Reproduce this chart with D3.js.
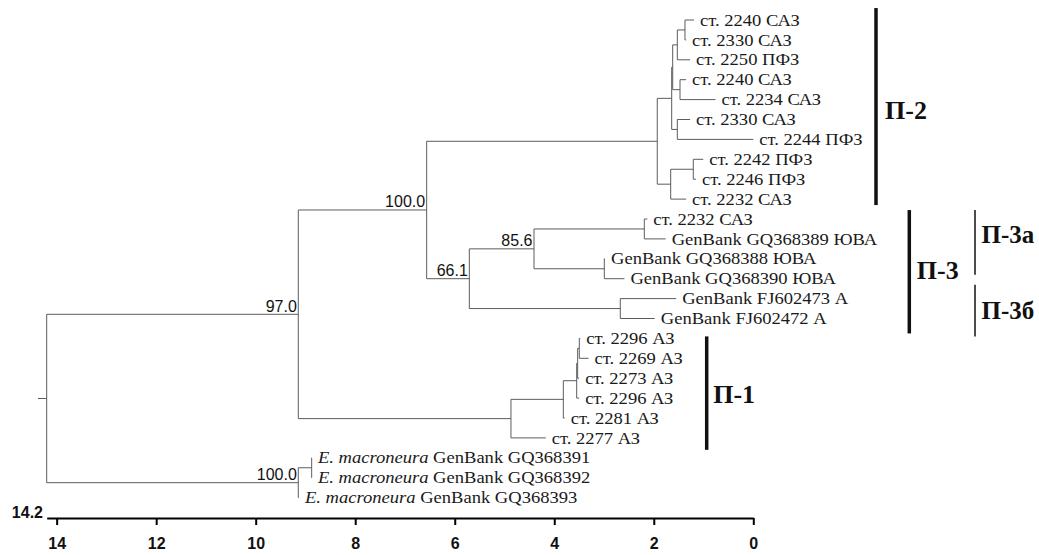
<!DOCTYPE html>
<html><head><meta charset="utf-8">
<script src="https://cdn.jsdelivr.net/npm/d3@7"></script>
<style>body{margin:0;background:#fff}</style>
</head><body><svg id="c" width="1039" height="555"></svg>
<script>
// ---------- data ----------
const leafLabels = [
 "ст. 2240 САЗ","ст. 2330 САЗ","ст. 2250 ПФЗ","ст. 2240 САЗ","ст. 2234 САЗ","ст. 2330 САЗ","ст. 2244 ПФЗ",
 "ст. 2242 ПФЗ","ст. 2246 ПФЗ","ст. 2232 САЗ",
 "ст. 2232 САЗ","GenBank GQ368389 ЮВА","GenBank GQ368388 ЮВА","GenBank GQ368390 ЮВА","GenBank FJ602473 А","GenBank FJ602472 А",
 "ст. 2296 АЗ","ст. 2269 АЗ","ст. 2273 АЗ","ст. 2296 АЗ","ст. 2281 АЗ","ст. 2277 АЗ",
 "E. macroneura GenBank GQ368391","E. macroneura GenBank GQ368392","E. macroneura GenBank GQ368393"];
const italicPrefix = "E. macroneura";
const leafTip = [1.19,1.35,1.27,1.35,0.76,1.27,0.0,1.005,1.15,1.35,
 2.13,1.76,2.98,2.59,1.55,1.98,
 3.477,3.31,3.50,3.50,3.79,4.17,
 8.87,8.87,9.13];
const leafParent = ["N12","N12","B","C","C","D","D","N89","N89","E",
 "N1112","N1112","N1314","N1314","N1516","N1516",
 "H","H","I","G","F","P1","EM2","EM2","EM"];
const nodeId =     ["root","IN","P","P2","U","A","B","N12","C","D","E","N89","P3","P3a","N1112","N1314","N1516","P1","F","G","I","H","EM","EM2"];
const nodeParent = ["","root","IN","P","P2","U","A","B","A","U","P2","E","P","P3","P3a","P3a","P3","IN","P1","F","G","I","root","EM"];
const nodeDist =   [14.2,9.144,6.564,1.93,1.64,1.62,1.527,1.373,1.473,1.527,1.66,1.206,5.707,4.407,2.19,2.994,2.673,4.87,3.818,3.549,3.53,3.497,9.144,8.875];
const nodeSupport = [null,97.0,100.0,null,null,null,null,null,null,null,null,null,66.1,85.6,null,null,null,null,null,null,null,null,100.0,null];
const axisTicks = [14,12,10,8,6,4,2,0];
const rootLabel = "14.2";
const cladeNames = ["П-2","П-3","П-3а","П-3б","П-1"];

// ---------- layout ----------
const svg = d3.select("#c");
const x = d3.scaleLinear().domain([14.2, 0]).range([46.7, 753.3]);
const yIdx = d3.scaleLinear().domain([0, 24]).range([20, 497.6]);
const lineColor = "#5c5c5c";
const serif = "'Liberation Serif','Times New Roman',serif";
const sans = "'Liberation Sans',Arial,sans-serif";

const rows = nodeId.map((id,i)=>({id, parent: nodeParent[i] || null, dist: nodeDist[i], support: nodeSupport[i]}));
leafLabels.forEach((l,i)=>rows.push({id:"L"+i, parent: leafParent[i], dist: leafTip[i], label: l, idx: i}));
const root = d3.stratify().id(d=>d.id).parentId(d=>d.parent)(rows);
root.eachAfter(n=>{
  if(!n.children) n.y = yIdx(n.data.idx);
  else n.y = d3.mean(n.children, c=>c.y);
  n.x = x(n.data.dist);
});

const gTree = svg.append("g").attr("stroke", lineColor).attr("stroke-width", 1).attr("fill","none");
root.descendants().filter(n=>n.parent).forEach(n=>{
  gTree.append("line").attr("x1", n.parent.x).attr("x2", n.x).attr("y1", n.y).attr("y2", n.y);
});
root.descendants().filter(n=>n.children).forEach(n=>{
  const ys = n.children.map(c=>c.y);
  gTree.append("line").attr("x1", n.x).attr("x2", n.x).attr("y1", d3.min(ys)).attr("y2", d3.max(ys));
});
gTree.append("line").attr("x1", root.x - 8.7).attr("x2", root.x).attr("y1", root.y).attr("y2", root.y);

root.descendants().filter(n=>n.data.support != null).forEach(n=>{
  svg.append("text").attr("x", n.x - 1.5).attr("y", n.y - 2.5)
    .attr("text-anchor","end").attr("font-family", sans).attr("font-size", 16).attr("fill","#111")
    .text(n.data.support.toFixed(1));
});

root.leaves().forEach(n=>{
  const g = svg.append("g").attr("transform", `translate(${n.x + 6},${n.y}) scale(1.16,1)`);
  const t = g.append("text").attr("dy","0.35em").attr("font-family", serif).attr("font-size", 16).attr("fill","#1a1a1a");
  const lab = n.data.label;
  if (lab.startsWith(italicPrefix)) {
    t.append("tspan").attr("font-style","italic").text(italicPrefix);
    t.append("tspan").text(lab.slice(italicPrefix.length));
  } else t.text(lab);
});

const axisY = 518;
const ax = svg.append("g").attr("transform", `translate(0,${axisY})`)
  .call(d3.axisBottom(x).tickValues(axisTicks).tickFormat(d3.format("d")).tickSize(7).tickSizeOuter(0).tickPadding(13));
ax.select(".domain").attr("stroke","#000").attr("stroke-width",2);
ax.selectAll(".tick line").attr("stroke","#000").attr("stroke-width",2);
ax.selectAll(".tick text").attr("font-family", sans).attr("font-size", 16).attr("font-weight","bold").attr("fill","#111");
svg.append("text").attr("x", 43).attr("y", axisY).attr("text-anchor","end")
  .attr("font-family", sans).attr("font-size", 16).attr("font-weight","bold").attr("fill","#111").text(rootLabel);

const cladeBarX = [876, 909.3, 975, 975, 706.7];
const cladeBarW = [3.5, 3.5, 1.5, 1.5, 3.5];
const cladeSpan = [[-0.6, 9.3],[9.55, 15.75],[9.55, 12.8],[13.3, 15.9],[15.9, 21.6]];
const cladeLabelDx = [9, 7.5, 6.5, 6.5, 6.5];
const cladeLabelIdx = [4.5, 12.55, 10.75, 14.6, 18.8];
const cladeFont = [26, 26, 25, 25, 26];
cladeNames.forEach((nm,i)=>{
  svg.append("line").attr("x1", cladeBarX[i]).attr("x2", cladeBarX[i])
    .attr("y1", yIdx(cladeSpan[i][0])).attr("y2", yIdx(cladeSpan[i][1]))
    .attr("stroke","#111").attr("stroke-width", cladeBarW[i]);
  svg.append("text").attr("x", cladeBarX[i] + cladeLabelDx[i]).attr("y", yIdx(cladeLabelIdx[i]))
    .attr("dy","0.35em").attr("font-family", serif).attr("font-weight","bold").attr("font-size", cladeFont[i])
    .attr("fill","#111").text(nm);
});
</script>
</body></html>
